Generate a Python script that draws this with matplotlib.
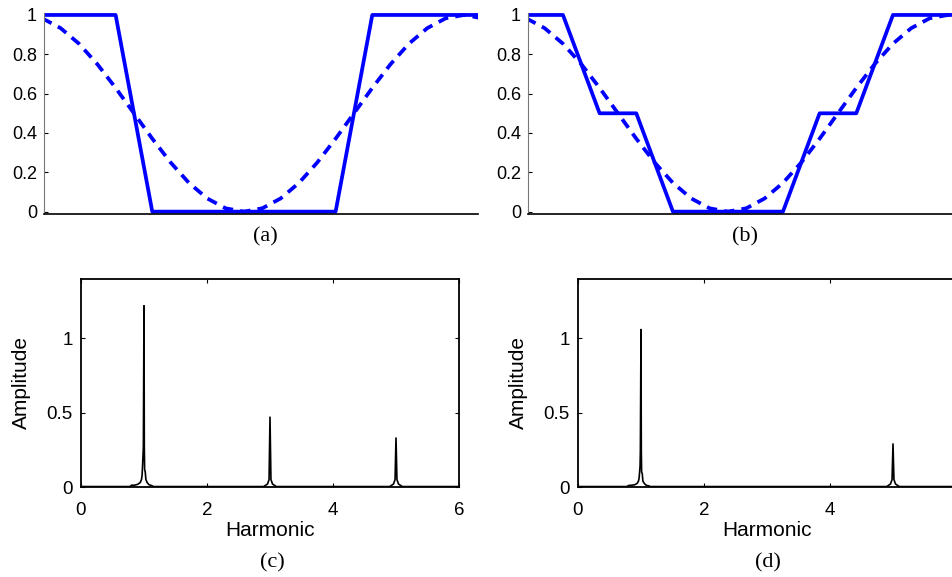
import numpy as np
import matplotlib
matplotlib.use("Agg")
import matplotlib.pyplot as plt

plt.rcParams['font.family'] = ['Liberation Sans', 'DejaVu Sans']

# angle (deg) for the top waveforms
ang_cos = [15, 30, 45, 60, 75, 90, 105, 120, 135, 150, 165, 180, 195,
           210, 225, 240, 255, 270, 285, 300, 315, 330, 345, 360, 375]
val_cos = [0.983, 0.933, 0.854, 0.75, 0.629, 0.5, 0.371, 0.25, 0.146, 0.067,
           0.017, 0.0, 0.017, 0.067, 0.146, 0.25, 0.371, 0.5, 0.629, 0.75,
           0.854, 0.933, 0.983, 1.0, 0.983]

# (a) two-level wave
ang_a = [16.4, 75, 105, 255, 285, 371.5]
val_a = [1, 1, 0, 0, 1, 1]

# (b) three-level wave
ang_b = [16.4, 45, 75, 105, 135, 225, 255, 285, 315, 371.5]
val_b = [1, 1, 0.5, 0.5, 0, 0, 0.5, 0.5, 1, 1]

# (c) spectrum
harm_c = [0, 0.78, 0.8, 0.85, 0.9, 0.94, 0.96, 0.97, 0.98, 0.99, 1.0, 1.005,
          1.01, 1.02, 1.03, 1.05, 1.08, 1.12, 1.15, 2.9, 2.96, 2.985, 3.0,
          3.015, 3.04, 3.1, 4.9, 4.96, 4.985, 5.0, 5.015, 5.04, 5.1, 6]
amp_c = [0.003, 0.003, 0.012, 0.012, 0.018, 0.03, 0.05, 0.08, 0.17, 0.27,
         1.22, 0.27, 0.12, 0.1, 0.05, 0.03, 0.015, 0.01, 0.003, 0.003, 0.02,
         0.05, 0.47, 0.05, 0.02, 0.003, 0.003, 0.02, 0.05, 0.33, 0.05, 0.02,
         0.003, 0.003]

# (d) spectrum
harm_d = [0, 0.78, 0.8, 0.85, 0.9, 0.94, 0.96, 0.97, 0.985, 0.99, 1.0,
          1.005, 1.01, 1.02, 1.03, 1.05, 1.08, 1.12, 1.15, 4.9, 4.96, 4.985,
          5.0, 5.015, 5.04, 5.1, 6]
amp_d = [0.003, 0.003, 0.01, 0.012, 0.015, 0.025, 0.04, 0.06, 0.14, 0.24,
         1.06, 0.24, 0.1, 0.09, 0.04, 0.025, 0.012, 0.008, 0.003, 0.003, 0.02,
         0.05, 0.29, 0.05, 0.02, 0.003, 0.003]

blue = '#0000ff'
fig = plt.figure(figsize=(9.53, 5.77), dpi=100)

W, H = 953.0, 577.0


def ax_px(l, t, w, h):
    return fig.add_axes([l / W, 1 - (t + h) / H, w / W, h / H])


def top_panel(ax, ang, val):
    ax.plot(ang_cos, val_cos, color=blue, lw=2.7, dashes=(2.8, 1.9))
    ax.plot(ang, val, color=blue, lw=2.7)
    ax.set_xlim(16.4, 371.5)
    ax.set_ylim(-0.012, 1.01)
    ax.set_xticks([])
    ax.set_yticks([0, 0.2, 0.4, 0.6, 0.8, 1])
    ax.set_yticklabels(['0', '0.2', '0.4', '0.6', '0.8', '1'])
    ax.spines['top'].set_visible(False)
    ax.spines['right'].set_visible(False)
    ax.spines['left'].set_color('#777777')
    ax.spines['left'].set_linewidth(0.8)
    ax.spines['bottom'].set_linewidth(1.2)
    ax.tick_params(axis='y', direction='in', length=3, width=0.8,
                   labelsize=13, pad=5)


def bottom_panel(ax, h, a):
    ax.plot(h, a, color='black', lw=1.2)
    ax.set_xlim(0, 6)
    ax.set_ylim(0, 1.4)
    ax.set_xticks([0, 2, 4, 6])
    ax.set_yticks([0, 0.5, 1])
    ax.set_yticklabels(['0', '0.5', '1'])
    for s in ax.spines.values():
        s.set_linewidth(1.3)
    ax.tick_params(direction='in', length=3, width=0.8, labelsize=13.5,
                   top=True, right=True)
    ax.tick_params(axis='x', pad=10.5)
    ax.tick_params(axis='y', pad=6)
    ax.set_xlabel('Harmonic', fontsize=15, labelpad=2)
    ax.set_ylabel('Amplitude', fontsize=15, labelpad=11)


ax1 = ax_px(44, 13, 434, 201)
top_panel(ax1, ang_a, val_a)
ax2 = ax_px(528, 13, 434, 201)
top_panel(ax2, ang_b, val_b)

ax3 = ax_px(81, 279, 378, 208)
bottom_panel(ax3, harm_c, amp_c)
ax4 = ax_px(578, 279, 378, 208)
bottom_panel(ax4, harm_d, amp_d)

cap = dict(fontsize=16, family='Liberation Serif', ha='center', va='center')
fig.text(265 / W, 1 - 237 / H, '(a)', **cap)
fig.text(745 / W, 1 - 237 / H, '(b)', **cap)
fig.text(272 / W, 1 - 563 / H, '(c)', **cap)
fig.text(768 / W, 1 - 563 / H, '(d)', **cap)

fig.savefig('out.png', dpi=100)
